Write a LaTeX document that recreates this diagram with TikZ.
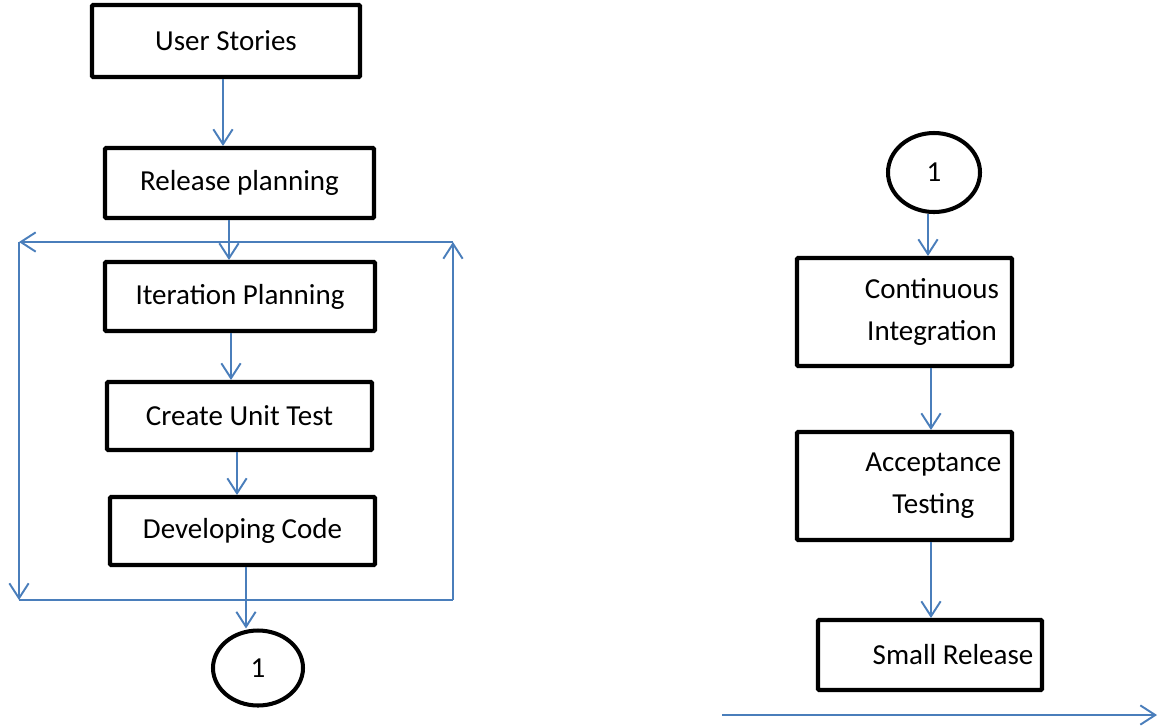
\documentclass[tikz,border=0pt]{standalone}
\usepackage{fontspec}
\setmainfont{Carlito}
\usetikzlibrary{arrows.meta,shapes.geometric}

\definecolor{flowblue}{HTML}{4A7EBB}

\newcommand{\pushright}[1]{\hspace*{#1}}

\tikzset{
  stepbox/.style={draw=black,line width=2.3pt,rounded corners=0.6pt,
    inner sep=0pt,align=center,font=\fontsize{16.5}{24}\selectfont},
  connector/.style={draw=black,line width=2.3pt,ellipse,inner sep=0pt,
    font=\fontsize{16.5}{20}\selectfont},
  flow/.style={flowblue,line width=1.1pt,-{Straight Barb[length=8.5pt,width=11pt,line width=1.1pt]}},
  plain/.style={flowblue,line width=1.1pt}
}

\begin{document}
\begin{tikzpicture}[x=0.02cm,y=-0.02cm]
  \useasboundingbox (0,0) rectangle (1159,725);

  \node[stepbox,minimum width=268*0.02cm,minimum height=72*0.02cm] (us) at (226,41) {User Stories};
  \node[stepbox,minimum width=269*0.02cm,minimum height=70*0.02cm] (rp) at (239.5,183) {Release planning};
  \node[stepbox,minimum width=270*0.02cm,minimum height=69*0.02cm] (ip) at (240,296.5) {Iteration Planning};
  \node[stepbox,minimum width=265*0.02cm,minimum height=68*0.02cm] (cut) at (239.5,416) {Create Unit Test};
  \node[stepbox,minimum width=265*0.02cm,minimum height=68*0.02cm] (dc) at (242.5,531) {Developing Code};
  \node[connector,minimum width=90*0.02cm,minimum height=75*0.02cm] (c1a) at (258,668) {1};

  \node[connector,minimum width=92*0.02cm,minimum height=79*0.02cm] (c1b) at (934,172.5) {1};
  \node[stepbox,minimum width=215*0.02cm,minimum height=108*0.02cm] (ci) at (904.5,312)
    {\pushright{1.1cm}Continuous\\\pushright{1.1cm}Integration};
  \node[stepbox,minimum width=215*0.02cm,minimum height=108*0.02cm] (at) at (904.5,486)
    {\pushright{1.15cm}Acceptance\\\pushright{1.15cm}Testing};
  \node[stepbox,minimum width=224*0.02cm,minimum height=70*0.02cm] (sr) at (930,655)
    {\pushright{0.92cm}Small Release};

  \coordinate (lt) at (19,242);
  \coordinate (lb) at (19,600);
  \coordinate (rb) at (453,600);
  \coordinate (rt) at (453,242);
  \coordinate (out1) at (722,715);
  \coordinate (out2) at (1157,715);

  \draw[flow] (us.south -| 223,0) -- (rp.north -| 223,0);
  \draw[flow] (rp.south -| 229,0) -- (ip.north -| 229,0);
  \draw[flow] (ip.south -| 231,0) -- (cut.north -| 231,0);
  \draw[flow] (cut.south -| 237,0) -- (dc.north -| 237,0);
  \draw[flow] (dc.south -| 246,0) -- (c1a.north -| 246,0);

  \draw[flow] (rb) -- (rt);
  \draw[flow] (rt) -- (lt);
  \draw[flow] (lt) -- (lb);
  \draw[plain] (lb) -- (rb);

  \draw[flow] (c1b.south -| 928,0) -- (ci.north -| 928,0);
  \draw[flow] (ci.south -| 931,0) -- (at.north -| 931,0);
  \draw[flow] (at.south -| 931,0) -- (sr.north -| 931,0);
  \draw[flow] (out1) -- (out2);
\end{tikzpicture}
\end{document}
